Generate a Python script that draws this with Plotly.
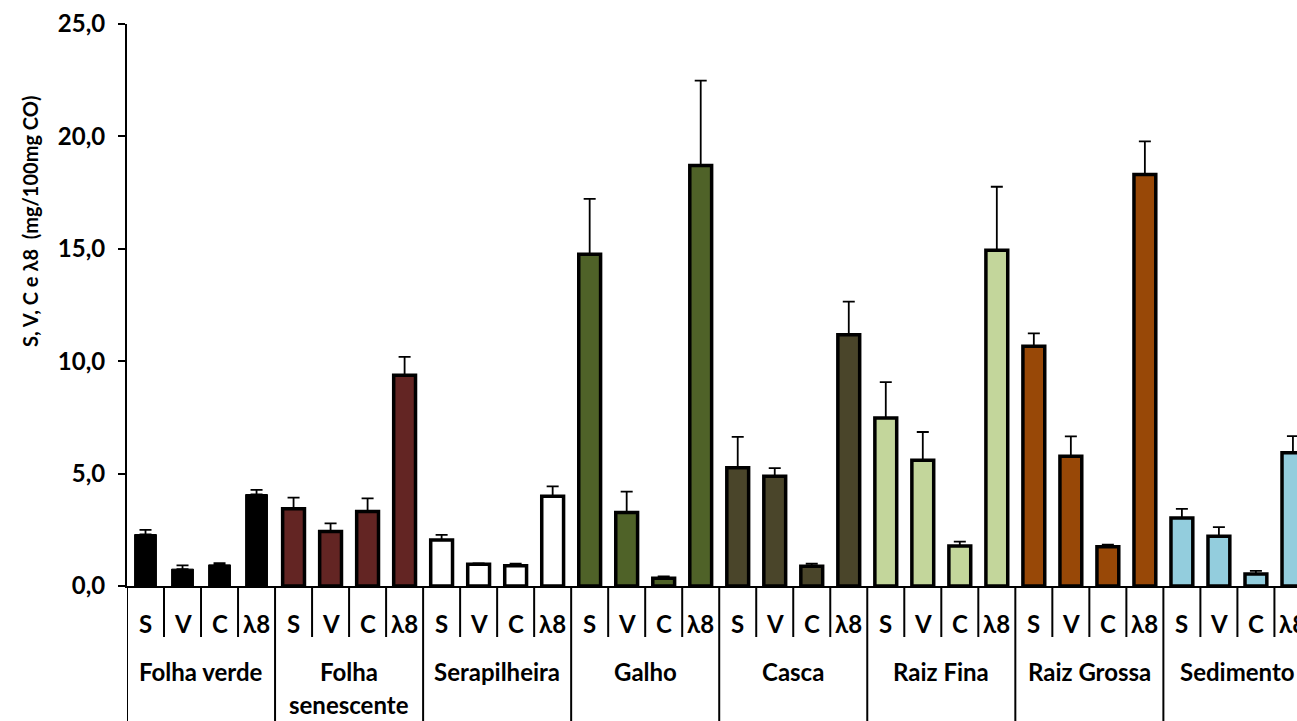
import plotly.graph_objects as go

# Sample groups (outer axis level) and parameters (inner axis level)
groups = ["Folha verde", "Folha<br>senescente", "Serapilheira", "Galho",
          "Casca", "Raiz Fina", "Raiz Grossa", "Sedimento"]
params = ["S", "V", "C", "λ8"]

# Mean values (mg/100mg CO) for S, V, C and λ8 in each group
folha_verde = [2.29, 0.75, 0.94, 4.07]
folha_senescente = [3.44, 2.42, 3.31, 9.37]
serapilheira = [2.05, 0.97, 0.90, 3.99]
galho = [14.76, 3.27, 0.34, 18.71]
casca = [5.26, 4.88, 0.88, 11.18]
raiz_fina = [7.47, 5.59, 1.78, 14.93]
raiz_grossa = [10.66, 5.77, 1.75, 18.31]
sedimento = [3.02, 2.21, 0.53, 5.93]

# Standard deviations (upper error bars)
err_folha_verde = [0.21, 0.17, 0.08, 0.21]
err_folha_senescente = [0.49, 0.37, 0.59, 0.82]
err_serapilheira = [0.22, 0.03, 0.09, 0.44]
err_galho = [2.46, 0.93, 0.09, 3.77]
err_casca = [1.37, 0.36, 0.11, 1.47]
err_raiz_fina = [1.60, 1.26, 0.19, 2.83]
err_raiz_grossa = [0.58, 0.89, 0.09, 1.47]
err_sedimento = [0.41, 0.41, 0.14, 0.74]

values = [folha_verde, folha_senescente, serapilheira, galho,
          casca, raiz_fina, raiz_grossa, sedimento]
errors = [err_folha_verde, err_folha_senescente, err_serapilheira, err_galho,
          err_casca, err_raiz_fina, err_raiz_grossa, err_sedimento]
colors = ["#000000", "#632523", "#FFFFFF", "#4F6228",
          "#4A452A", "#C3D69B", "#984807", "#93CDDD"]

FONT = "Lato"
LABEL_SIZE = 24
W, H = 1297, 721
ML, MR, MT, MB = 127, 0, 24, 135
plot_h = H - MT - MB
n_per = len(params)


def py(px):
    """Convert a pixel row (from top) to paper y coordinate."""
    return (H - MB - px) / plot_h


fig = go.Figure()

for g, (vals, errs, col) in enumerate(zip(values, errors, colors)):
    xs = [g * n_per + j for j in range(n_per)]
    fig.add_trace(go.Bar(
        x=xs, y=vals, width=0.59,
        marker=dict(color=col,
                    line=dict(color="black", width=1 if col == "#000000" else 3.5)),
        error_y=dict(type="data", array=errs, arrayminus=[0] * n_per,
                     symmetric=False, color="black", thickness=1.8, width=6),
        hoverinfo="x+y",
    ))

shapes = []
annotations = []
n_groups = len(groups)
label_font = dict(family=FONT, size=LABEL_SIZE, color="black", weight="bold")

# Category separators and labels
for g in range(n_groups):
    base = g * n_per
    # group boundary (runs to the bottom of the figure)
    shapes.append(dict(type="line", xref="x", yref="paper",
                       x0=base - 0.5, x1=base - 0.5, y0=0, y1=py(H + 5),
                       line=dict(color="black", width=2)))
    for j, p in enumerate(params):
        if j > 0:
            shapes.append(dict(type="line", xref="x", yref="paper",
                               x0=base + j - 0.5, x1=base + j - 0.5,
                               y0=0, y1=py(637),
                               line=dict(color="black", width=2)))
        annotations.append(dict(x=base + j, y=py(623), xref="x", yref="paper",
                                text=p, showarrow=False, xanchor="center",
                                yanchor="middle", font=label_font))
    for k, line in enumerate(groups[g].split("<br>")):
        annotations.append(dict(x=base + (n_per - 1) / 2, y=py(671 + 33 * k),
                                xref="x", yref="paper", text=line,
                                showarrow=False, xanchor="center",
                                yanchor="middle", font=label_font))

# Y axis title
annotations.append(dict(x=(30 - ML) / (W - ML - MR), y=py(222), xref="paper",
                        yref="paper", text="S, V, C e λ8 \u00a0(mg/100mg CO)",
                        textangle=-90, showarrow=False, xanchor="center",
                        yanchor="middle",
                        font=dict(family=FONT, size=20, color="black",
                                  weight="bold")))

fig.update_layout(
    width=W, height=H,
    margin=dict(l=ML, r=MR, t=MT, b=MB, pad=0),
    plot_bgcolor="white", paper_bgcolor="white",
    barmode="overlay", showlegend=False,
    separators=",.",
    font=dict(family=FONT, color="black"),
    shapes=shapes, annotations=annotations,
    xaxis=dict(range=[-0.5, 31.11], showticklabels=False, ticks="",
               showgrid=False, zeroline=False, showline=True,
               linecolor="black", linewidth=2, fixedrange=True),
    yaxis=dict(range=[0, 25], tickvals=[0, 5, 10, 15, 20, 25],
               tickformat=".1f", ticks="outside", ticklen=7, tickwidth=2,
               tickcolor="black", showgrid=False, zeroline=False,
               showline=True, linecolor="black", linewidth=2,
               ticklabelstandoff=8,
               tickfont=dict(family=FONT, size=LABEL_SIZE, color="black",
                             weight="bold")),
)

fig.write_html("out.html")
